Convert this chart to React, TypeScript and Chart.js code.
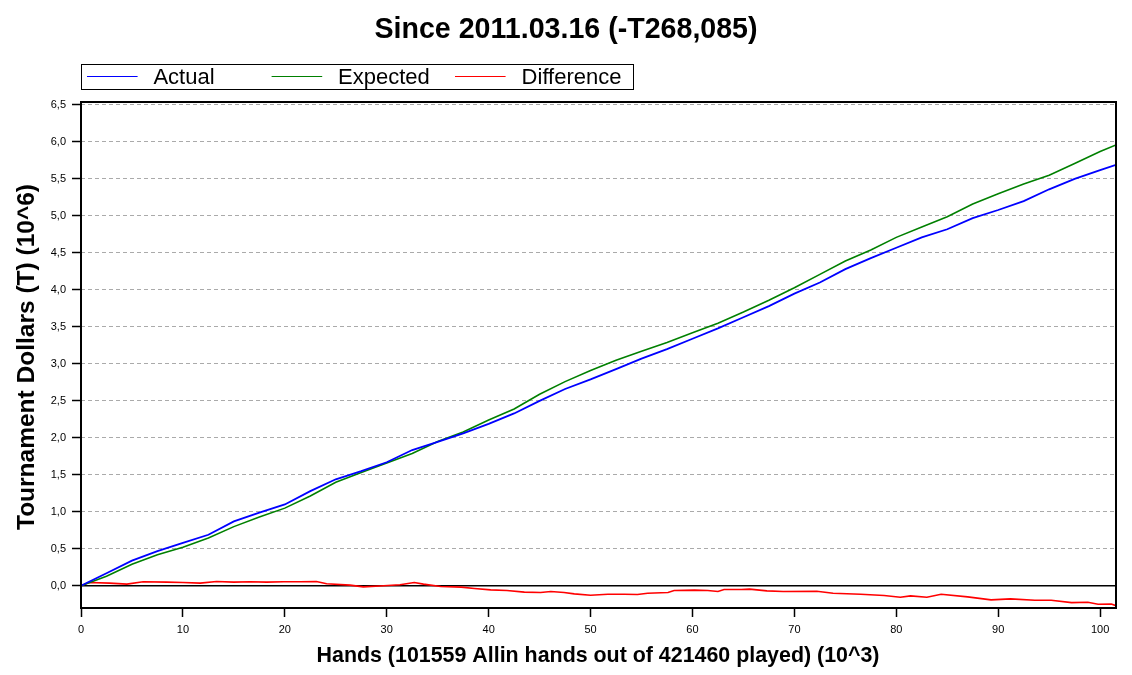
import React, { useEffect, useRef } from "react";
import { Chart, registerables } from "chart.js";

Chart.register(...registerables);

const TITLE = "Since 2011.03.16 (-T268,085)";
const X_TITLE = "Hands (101559 Allin hands out of 421460 played) (10^3)";
const Y_TITLE = "Tournament Dollars (T) (10^6)";
const SERIES_NAMES = ["Actual", "Expected", "Difference"];
const SERIES_COLORS = ["#0000ff", "#008000", "#ff0000"];

// hands (thousands)
const handsMain = [
  0, 2.5, 5, 7.5, 10, 12.5, 15, 17.5, 20, 22.5, 25, 27.5, 30, 32.5, 35, 37.5, 40,
  42.5, 45, 47.5, 50, 52.5, 55, 57.5, 60, 62.5, 65, 67.5, 70, 72.5, 75, 77.5, 80,
  82.5, 85, 87.5, 90, 92.5, 95, 97.5, 100, 101.559,
];
// Tournament dollars (millions)
const actual = [
  0, 0.17, 0.34, 0.47, 0.58, 0.69, 0.87, 0.99, 1.1, 1.28, 1.44, 1.55, 1.67, 1.835,
  1.945, 2.06, 2.19, 2.33, 2.5, 2.66, 2.79, 2.93, 3.07, 3.2, 3.34, 3.48, 3.63, 3.78,
  3.95, 4.1, 4.28, 4.43, 4.57, 4.71, 4.82, 4.97, 5.08, 5.2, 5.36, 5.5, 5.62, 5.69,
];
const expected = [
  0, 0.13, 0.29, 0.42, 0.52, 0.645, 0.8, 0.93, 1.05, 1.215, 1.4, 1.53, 1.66, 1.79,
  1.95, 2.08, 2.24, 2.39, 2.59, 2.76, 2.91, 3.05, 3.17, 3.29, 3.42, 3.55, 3.7, 3.86,
  4.03, 4.21, 4.39, 4.54, 4.71, 4.85, 4.99, 5.16, 5.3, 5.43, 5.55, 5.71, 5.87, 5.96,
];
const handsDiff = [
  0, 0.8, 2.8, 4.5, 6.1, 8.4, 10, 11.7, 13.3, 15, 16.6, 18.2, 19.9, 21.5, 23.1, 24.1,
  26.4, 27.7, 29.7, 31.3, 32.7, 33.6, 35.3, 37.3, 38.6, 40.2, 41.8, 43.5, 45.1, 46.1,
  47.4, 48.4, 50, 51.7, 53.3, 54.6, 55.6, 57.6, 58.2, 60.2, 61.5, 62.5, 63.1, 64.8,
  65.6, 67.3, 68.9, 72.2, 73.8, 76.5, 78.8, 80.4, 81.4, 83, 84.4, 87, 89.3, 91.2,
  93.6, 95.2, 97.2, 98.8, 99.8, 101.1, 101.559,
];
const difference = [
  0, 0.045, 0.036, 0.023, 0.055, 0.05, 0.045, 0.036, 0.059, 0.05, 0.055, 0.05, 0.055,
  0.055, 0.059, 0.027, 0.009, -0.014, 0, 0.014, 0.045, 0.023, -0.01, -0.018, -0.036,
  -0.055, -0.064, -0.086, -0.09, -0.077, -0.09, -0.109, -0.127, -0.114, -0.114, -0.118,
  -0.1, -0.09, -0.064, -0.059, -0.064, -0.077, -0.05, -0.05, -0.045, -0.068, -0.077,
  -0.073, -0.1, -0.114, -0.132, -0.155, -0.136, -0.155, -0.114, -0.15, -0.19, -0.177,
  -0.195, -0.195, -0.227, -0.222, -0.25, -0.245, -0.268,
];

const X_MIN = 0;
const X_MAX = 101.559;
const Y_MIN = -0.3;
const Y_MAX = 6.54;

const FONT = '"Liberation Sans", Arial, sans-serif';

const decorPlugin = {
  id: "decor",
  beforeDatasetsDraw(chart: any) {
    const { ctx, chartArea, scales } = chart;
    const y0 = scales.y.getPixelForValue(0);
    ctx.save();
    ctx.strokeStyle = "#000";
    ctx.lineWidth = 1.5;
    ctx.beginPath();
    ctx.moveTo(chartArea.left, y0);
    ctx.lineTo(chartArea.right, y0);
    ctx.stroke();
    ctx.restore();
  },
  afterDraw(chart: any) {
    const { ctx, chartArea } = chart;
    ctx.save();
    // plot border
    ctx.strokeStyle = "#000";
    ctx.lineWidth = 2;
    ctx.strokeRect(chartArea.left, chartArea.top, chartArea.right - chartArea.left, chartArea.bottom - chartArea.top);

    // title
    ctx.fillStyle = "#000";
    ctx.textAlign = "center";
    ctx.textBaseline = "alphabetic";
    ctx.font = `bold 28.6px ${FONT}`;
    ctx.fillText(TITLE, 566, 37.5);

    // x title
    ctx.font = `bold 21.4px ${FONT}`;
    ctx.fillText(X_TITLE, 598, 662);

    // y title
    ctx.save();
    ctx.translate(34, 357);
    ctx.rotate(-Math.PI / 2);
    ctx.font = `bold 24.5px ${FONT}`;
    ctx.fillText(Y_TITLE, 0, 0);
    ctx.restore();

    // legend
    ctx.lineWidth = 1;
    ctx.strokeStyle = "#000";
    ctx.strokeRect(81.5, 64.5, 552, 25);
    const lineX = [87, 271.6, 455];
    const textX = [153.4, 338, 521.6];
    ctx.font = `22px ${FONT}`;
    ctx.textAlign = "left";
    for (let i = 0; i < 3; i++) {
      ctx.strokeStyle = SERIES_COLORS[i];
      ctx.lineWidth = 1.2;
      ctx.beginPath();
      ctx.moveTo(lineX[i], 76.5);
      ctx.lineTo(lineX[i] + 50.6, 76.5);
      ctx.stroke();
      ctx.fillStyle = "#000";
      ctx.fillText(SERIES_NAMES[i], textX[i], 83.5);
    }
    ctx.restore();
  },
};

export default function App() {
  const canvasRef = useRef<HTMLCanvasElement | null>(null);

  useEffect(() => {
    document.body.style.margin = "0";
    const canvas = canvasRef.current;
    if (!canvas) return;
    const toPts = (xs: number[], ys: number[]) => xs.map((x, i) => ({ x, y: ys[i] }));
    const chart = new Chart(canvas, {
      type: "line",
      data: {
        datasets: [
          {
            label: SERIES_NAMES[0],
            data: toPts(handsMain, actual),
            borderColor: SERIES_COLORS[0],
            borderWidth: 1.8,
            pointRadius: 0,
            tension: 0,
          },
          {
            label: SERIES_NAMES[1],
            data: toPts(handsMain, expected),
            borderColor: SERIES_COLORS[1],
            borderWidth: 1.6,
            pointRadius: 0,
            tension: 0,
          },
          {
            label: SERIES_NAMES[2],
            data: toPts(handsDiff, difference),
            borderColor: SERIES_COLORS[2],
            borderWidth: 1.6,
            pointRadius: 0,
            tension: 0,
          },
        ],
      },
      options: {
        animation: false,
        responsive: false,
        devicePixelRatio: 1,
        layout: { padding: { top: 102, right: 16, left: 0, bottom: 0 } },
        plugins: {
          legend: { display: false },
          title: { display: false },
          tooltip: { enabled: false },
        },
        scales: {
          x: {
            type: "linear",
            min: X_MIN,
            max: X_MAX,
            afterFit: (s: any) => {
              s.height = 67;
            },
            ticks: {
              stepSize: 10,
              includeBounds: false,
              autoSkip: false,
              maxRotation: 0,
              padding: 6,
              color: "#000",
              font: { family: FONT, size: 11 },
            },
            grid: {
              drawOnChartArea: false,
              drawTicks: true,
              tickLength: 9,
              tickColor: "#000",
              tickWidth: 1.5,
            },
            border: { display: false },
          },
          y: {
            type: "linear",
            min: Y_MIN,
            max: Y_MAX,
            afterFit: (s: any) => {
              s.width = 81;
            },
            ticks: {
              stepSize: 0.5,
              includeBounds: false,
              autoSkip: false,
              padding: 6,
              color: "#000",
              font: { family: FONT, size: 11 },
              callback: (v: any) => Number(v).toFixed(1).replace(".", ","),
            },
            grid: {
              color: (c: any) => (c.tick && Math.abs(c.tick.value) < 1e-9 ? "rgba(0,0,0,0)" : "#aaaaaa"),
              lineWidth: 1,
              tickLength: 9,
              tickColor: "#000",
              tickWidth: 1.5,
              tickBorderDash: [],
            },
            border: { display: false, dash: [4, 3] },
          },
        },
      },
      plugins: [decorPlugin],
    } as any);
    return () => chart.destroy();
  }, []);

  return (
    <div style={{ position: "absolute", left: 0, top: 0, width: 1132, height: 675, background: "#fff" }}>
      <canvas ref={canvasRef} width={1132} height={675} style={{ display: "block" }} />
    </div>
  );
}
